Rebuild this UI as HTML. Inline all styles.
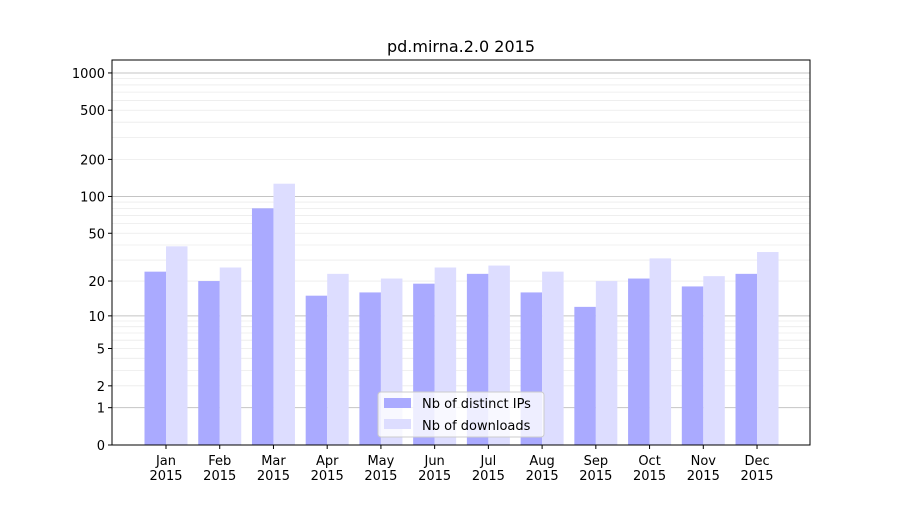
<!DOCTYPE html>
<html><head><meta charset="utf-8"><style>
body{margin:0;background:#fff;font-family:"Liberation Sans","DejaVu Sans",sans-serif}
svg text{font-family:"DejaVu Sans","Liberation Sans",sans-serif;font-size:13px;fill:#000}
</style></head><body>
<svg id="chart" width="900" height="500" xmlns="http://www.w3.org/2000/svg">
<rect width="900" height="500" fill="#fff"/>
<text x="461" y="52" text-anchor="middle" style="font-size:16px">pd.mirna.2.0 2015</text>
<g id="grid"></g><g id="bars"></g><g id="axes"></g>
</svg>
<script>
const categories=["Jan","Feb","Mar","Apr","May","Jun","Jul","Aug","Sep","Oct","Nov","Dec"];
const ipsValues=[24,20,80,15,16,19,23,16,12,21,18,23];
const downloadValues=[39,26,127,23,21,26,27,24,20,31,22,35];
const tickValues=[0,1,2,5,10,20,50,100,200,500,1000];
const tickLabels=["0","1","2","5","10","20","50","100","200","500","1000"];
const NS="http://www.w3.org/2000/svg";
const L=112,R=810,T=60,B=445;
function y(v){return B-124*Math.log10(1+v);}
function xc(i){return 166+i*53.73;}
const bw=21.5;
function mk(tag,attrs,parent){const e=document.createElementNS(NS,tag);for(const k in attrs)e.setAttribute(k,attrs[k]);parent.appendChild(e);return e;}
const grid=document.getElementById('grid'),bars=document.getElementById('bars'),axes=document.getElementById('axes');
// minor grid
for(const dec of [1,10,100]){for(let m=2;m<=9;m++){const v=m*dec;const g=mk('line',{x1:L,x2:R,y1:y(v),y2:y(v),stroke:'#ebebeb','stroke-width':0.8},grid);

}}
for(const v of [1,10,100,1000]){const g=mk('line',{x1:L,x2:R,y1:y(v),y2:y(v),stroke:'#c4c4c4','stroke-width':1},grid);

}
categories.forEach((c,i)=>{
const a=mk('rect',{x:xc(i)-bw,y:y(ipsValues[i]),width:bw,height:B-y(ipsValues[i]),fill:'#aaaaff'},bars);


const b=mk('rect',{x:xc(i),y:y(downloadValues[i]),width:bw,height:B-y(downloadValues[i]),fill:'#ddddff'},bars);


mk('line',{x1:xc(i),x2:xc(i),y1:B,y2:B+4,stroke:'#000'},axes);
const t=mk('text',{x:xc(i),y:B+20,'text-anchor':'middle'},axes);t.textContent=c;


const t2=mk('text',{x:xc(i),y:B+35,'text-anchor':'middle'},axes);t2.textContent='2015';


});
tickValues.forEach((v,i)=>{
mk('line',{x1:L-4,x2:L,y1:y(v),y2:y(v),stroke:'#000'},axes);
const t=mk('text',{x:L-7,y:y(v)+5,'text-anchor':'end'},axes);t.textContent=tickLabels[i];


});
const f=mk('rect',{x:L,y:T,width:R-L,height:B-T,fill:'none',stroke:'#000','stroke-width':1},axes);


// legend
const lg=mk('g',{},axes);


mk('rect',{x:378,y:392,width:166,height:45,rx:3,fill:'#fff','fill-opacity':0.8,stroke:'#ccc'},lg);
mk('rect',{x:384,y:398,width:27,height:10,fill:'#aaaaff'},lg);
mk('rect',{x:384,y:419,width:27,height:10,fill:'#ddddff'},lg);
const l1=mk('text',{x:422,y:408},lg);l1.textContent='Nb of distinct IPs';


const l2=mk('text',{x:422,y:430},lg);l2.textContent='Nb of downloads';


</script>
</body></html>
